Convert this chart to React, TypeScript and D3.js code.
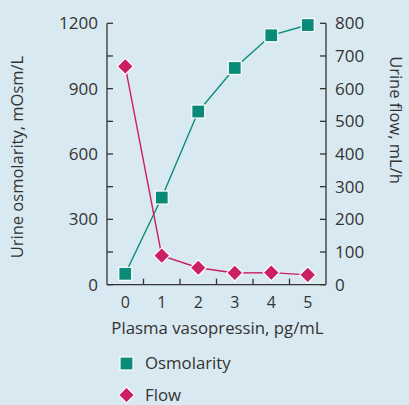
import React from 'react';
import * as d3 from 'd3';

const doses = [0, 1, 2, 3, 4, 5];
const osmolarity = [50, 400, 795, 995, 1145, 1192];
const flow = [668, 89, 52, 36, 37, 30];
const leftTicks = [0, 300, 600, 900, 1200];
const leftMinor = [150, 450, 750, 1050];
const rightTicks = [0, 100, 200, 300, 400, 500, 600, 700, 800];
const xMinor = [0.5, 1.5, 2.5, 3.5, 4.5];

const BG = '#d9e9f1';
const TEAL = '#0a8a78';
const MAGENTA = '#cc1f63';
const INK = '#333333';
const FONT = '"Open Sans", "Noto Sans", sans-serif';

const App = () => {
    const width = 409;
    const height = 405;
    const left = 107;
    const right = 326;
    const top = 23.3;
    const bottom = 284.7;

    const x = d3.scaleLinear().domain([-0.5, 5.5]).range([left, right]);
    const yL = d3.scaleLinear().domain([0, 1200]).range([bottom, top]);
    const yR = d3.scaleLinear().domain([0, 800]).range([bottom, top]);

    const osmLine = d3.line<number>().x((_, i) => x(doses[i])).y(d => yL(d));
    const flowLine = d3.line<number>().x((_, i) => x(doses[i])).y(d => yR(d));

    const sq = 13;
    const dm = 8;
    const diamond = (cx: number, cy: number) =>
        `M${cx},${cy - dm}L${cx + dm},${cy}L${cx},${cy + dm}L${cx - dm},${cy}Z`;

    return (
        <div style={{ position: 'absolute', left: 0, top: 0 }}>
            <svg width={width} height={height} style={{ display: 'block', background: BG }}>
                <g fontFamily={FONT} fill={INK}>
                    {/* axes */}
                    <g stroke={INK} strokeWidth={1.3} fill="none">
                        <line x1={left} x2={left} y1={top} y2={bottom} />
                        <line x1={right} x2={right} y1={top} y2={bottom} />
                        <line x1={left} x2={right} y1={bottom} y2={bottom} />
                        {leftTicks.map(t => (
                            <line key={'l' + t} x1={left} x2={left + 6} y1={yL(t)} y2={yL(t)} />
                        ))}
                        {leftMinor.map(t => (
                            <line key={'lm' + t} x1={left} x2={left + 6} y1={yL(t)} y2={yL(t)} />
                        ))}
                        {rightTicks.map(t => (
                            <line key={'r' + t} x1={right} x2={right - 6} y1={yR(t)} y2={yR(t)} />
                        ))}
                        {xMinor.map(t => (
                            <line key={'x' + t} x1={x(t)} x2={x(t)} y1={bottom} y2={bottom - 6} />
                        ))}
                    </g>
                    {leftTicks.map(t => (
                        <text key={'lt' + t} x={left - 9} y={yL(t)} dy="0.35em" textAnchor="end" fontSize={17}>
                            {t}
                        </text>
                    ))}
                    {rightTicks.map(t => (
                        <text key={'rt' + t} x={right + 9} y={yR(t)} dy="0.35em" textAnchor="start" fontSize={17}>
                            {t}
                        </text>
                    ))}
                    {doses.map(t => (
                        <text key={'xt' + t} x={x(t)} y={302} dy="0.35em" textAnchor="middle" fontSize={16}>
                            {t}
                        </text>
                    ))}
                    <text x={(left + right) / 2 + 1} y={328} dy="0.35em" textAnchor="middle" fontSize={16.8}>
                        Plasma vasopressin, pg/mL
                    </text>
                    <text transform={`translate(17,157) rotate(-90)`} dy="0.35em" textAnchor="middle" fontSize={16.5}>
                        Urine osmolarity, mOsm/L
                    </text>
                    <text transform={`translate(396,120) rotate(90)`} dy="0.35em" textAnchor="middle" fontSize={16.5}>
                        Urine flow, mL/h
                    </text>

                    {/* series */}
                    <path d={osmLine(osmolarity) || ''} fill="none" stroke={TEAL} strokeWidth={1.4} />
                    <path d={flowLine(flow) || ''} fill="none" stroke={MAGENTA} strokeWidth={1.4} />
                    {osmolarity.map((v, i) => (
                        <rect key={'o' + i} x={x(doses[i]) - sq / 2} y={yL(v) - sq / 2} width={sq} height={sq}
                              fill={TEAL} stroke="#fff" strokeWidth={1.2} />
                    ))}
                    {flow.map((v, i) => (
                        <path key={'f' + i} d={diamond(x(doses[i]), yR(v))} fill={MAGENTA} stroke="#fff" strokeWidth={1.2} />
                    ))}

                    {/* legend */}
                    <rect x={120} y={357} width={13} height={13} fill={TEAL} stroke="#fff" strokeWidth={1.2} />
                    <text x={145} y={363.5} dy="0.35em" fontSize={16.8}>Osmolarity</text>
                    <path d={diamond(126.5, 395)} fill={MAGENTA} stroke="#fff" strokeWidth={1.2} />
                    <text x={145} y={395} dy="0.35em" fontSize={16.8}>Flow</text>
                </g>
            </svg>
        </div>
    );
};

export default App;
